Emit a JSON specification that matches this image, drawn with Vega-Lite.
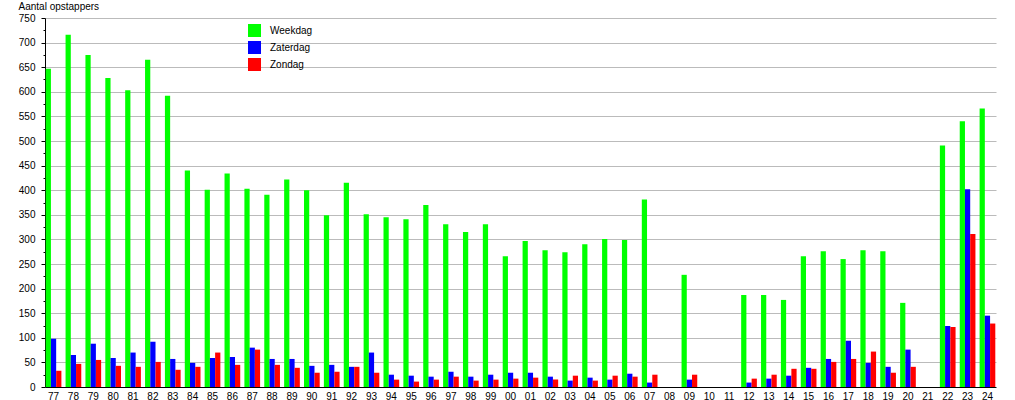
{
  "$schema": "https://vega.github.io/schema/vega-lite/v6.json",
  "width": 951,
  "height": 369,
  "autosize": {"type": "none"},
  "padding": {"left": 45, "top": 18, "right": 19, "bottom": 13},
  "background": "white",
  "config": {
    "view": {"stroke": null},
    "font": "Liberation Sans",
    "axis": {"labelFont": "Liberation Sans", "titleFont": "Liberation Sans", "labelColor": "#000000", "titleColor": "#000000"}
  },
  "data": {"values": [
    {"jaar":"77","dag":"Weekdag","n":647},{"jaar":"77","dag":"Zaterdag","n":98},{"jaar":"77","dag":"Zondag","n":33},
    {"jaar":"78","dag":"Weekdag","n":716},{"jaar":"78","dag":"Zaterdag","n":65},{"jaar":"78","dag":"Zondag","n":47},
    {"jaar":"79","dag":"Weekdag","n":675},{"jaar":"79","dag":"Zaterdag","n":88},{"jaar":"79","dag":"Zondag","n":55},
    {"jaar":"80","dag":"Weekdag","n":628},{"jaar":"80","dag":"Zaterdag","n":59},{"jaar":"80","dag":"Zondag","n":43},
    {"jaar":"81","dag":"Weekdag","n":603},{"jaar":"81","dag":"Zaterdag","n":70},{"jaar":"81","dag":"Zondag","n":41},
    {"jaar":"82","dag":"Weekdag","n":665},{"jaar":"82","dag":"Zaterdag","n":92},{"jaar":"82","dag":"Zondag","n":51},
    {"jaar":"83","dag":"Weekdag","n":592},{"jaar":"83","dag":"Zaterdag","n":57},{"jaar":"83","dag":"Zondag","n":35},
    {"jaar":"84","dag":"Weekdag","n":440},{"jaar":"84","dag":"Zaterdag","n":49},{"jaar":"84","dag":"Zondag","n":41},
    {"jaar":"85","dag":"Weekdag","n":401},{"jaar":"85","dag":"Zaterdag","n":59},{"jaar":"85","dag":"Zondag","n":70},
    {"jaar":"86","dag":"Weekdag","n":434},{"jaar":"86","dag":"Zaterdag","n":61},{"jaar":"86","dag":"Zondag","n":45},
    {"jaar":"87","dag":"Weekdag","n":403},{"jaar":"87","dag":"Zaterdag","n":80},{"jaar":"87","dag":"Zondag","n":76},
    {"jaar":"88","dag":"Weekdag","n":391},{"jaar":"88","dag":"Zaterdag","n":57},{"jaar":"88","dag":"Zondag","n":45},
    {"jaar":"89","dag":"Weekdag","n":422},{"jaar":"89","dag":"Zaterdag","n":57},{"jaar":"89","dag":"Zondag","n":39},
    {"jaar":"90","dag":"Weekdag","n":400},{"jaar":"90","dag":"Zaterdag","n":43},{"jaar":"90","dag":"Zondag","n":29},
    {"jaar":"91","dag":"Weekdag","n":349},{"jaar":"91","dag":"Zaterdag","n":45},{"jaar":"91","dag":"Zondag","n":31},
    {"jaar":"92","dag":"Weekdag","n":415},{"jaar":"92","dag":"Zaterdag","n":41},{"jaar":"92","dag":"Zondag","n":41},
    {"jaar":"93","dag":"Weekdag","n":351},{"jaar":"93","dag":"Zaterdag","n":70},{"jaar":"93","dag":"Zondag","n":29},
    {"jaar":"94","dag":"Weekdag","n":345},{"jaar":"94","dag":"Zaterdag","n":25},{"jaar":"94","dag":"Zondag","n":15},
    {"jaar":"95","dag":"Weekdag","n":341},{"jaar":"95","dag":"Zaterdag","n":23},{"jaar":"95","dag":"Zondag","n":11},
    {"jaar":"96","dag":"Weekdag","n":370},{"jaar":"96","dag":"Zaterdag","n":21},{"jaar":"96","dag":"Zondag","n":15},
    {"jaar":"97","dag":"Weekdag","n":331},{"jaar":"97","dag":"Zaterdag","n":31},{"jaar":"97","dag":"Zondag","n":21},
    {"jaar":"98","dag":"Weekdag","n":315},{"jaar":"98","dag":"Zaterdag","n":21},{"jaar":"98","dag":"Zondag","n":13},
    {"jaar":"99","dag":"Weekdag","n":331},{"jaar":"99","dag":"Zaterdag","n":25},{"jaar":"99","dag":"Zondag","n":15},
    {"jaar":"00","dag":"Weekdag","n":266},{"jaar":"00","dag":"Zaterdag","n":29},{"jaar":"00","dag":"Zondag","n":17},
    {"jaar":"01","dag":"Weekdag","n":297},{"jaar":"01","dag":"Zaterdag","n":29},{"jaar":"01","dag":"Zondag","n":19},
    {"jaar":"02","dag":"Weekdag","n":278},{"jaar":"02","dag":"Zaterdag","n":21},{"jaar":"02","dag":"Zondag","n":15},
    {"jaar":"03","dag":"Weekdag","n":274},{"jaar":"03","dag":"Zaterdag","n":13},{"jaar":"03","dag":"Zondag","n":23},
    {"jaar":"04","dag":"Weekdag","n":290},{"jaar":"04","dag":"Zaterdag","n":19},{"jaar":"04","dag":"Zondag","n":13},
    {"jaar":"05","dag":"Weekdag","n":301},{"jaar":"05","dag":"Zaterdag","n":15},{"jaar":"05","dag":"Zondag","n":23},
    {"jaar":"06","dag":"Weekdag","n":299},{"jaar":"06","dag":"Zaterdag","n":27},{"jaar":"06","dag":"Zondag","n":21},
    {"jaar":"07","dag":"Weekdag","n":381},{"jaar":"07","dag":"Zaterdag","n":9},{"jaar":"07","dag":"Zondag","n":25},
    {"jaar":"08","dag":"Weekdag","n":0},{"jaar":"08","dag":"Zaterdag","n":0},{"jaar":"08","dag":"Zondag","n":0},
    {"jaar":"09","dag":"Weekdag","n":228},{"jaar":"09","dag":"Zaterdag","n":15},{"jaar":"09","dag":"Zondag","n":25},
    {"jaar":"10","dag":"Weekdag","n":0},{"jaar":"10","dag":"Zaterdag","n":0},{"jaar":"10","dag":"Zondag","n":0},
    {"jaar":"11","dag":"Weekdag","n":0},{"jaar":"11","dag":"Zaterdag","n":0},{"jaar":"11","dag":"Zondag","n":0},
    {"jaar":"12","dag":"Weekdag","n":187},{"jaar":"12","dag":"Zaterdag","n":9},{"jaar":"12","dag":"Zondag","n":17},
    {"jaar":"13","dag":"Weekdag","n":187},{"jaar":"13","dag":"Zaterdag","n":17},{"jaar":"13","dag":"Zondag","n":25},
    {"jaar":"14","dag":"Weekdag","n":177},{"jaar":"14","dag":"Zaterdag","n":23},{"jaar":"14","dag":"Zondag","n":37},
    {"jaar":"15","dag":"Weekdag","n":266},{"jaar":"15","dag":"Zaterdag","n":39},{"jaar":"15","dag":"Zondag","n":37},
    {"jaar":"16","dag":"Weekdag","n":276},{"jaar":"16","dag":"Zaterdag","n":57},{"jaar":"16","dag":"Zondag","n":51},
    {"jaar":"17","dag":"Weekdag","n":260},{"jaar":"17","dag":"Zaterdag","n":94},{"jaar":"17","dag":"Zondag","n":57},
    {"jaar":"18","dag":"Weekdag","n":278},{"jaar":"18","dag":"Zaterdag","n":49},{"jaar":"18","dag":"Zondag","n":72},
    {"jaar":"19","dag":"Weekdag","n":276},{"jaar":"19","dag":"Zaterdag","n":41},{"jaar":"19","dag":"Zondag","n":29},
    {"jaar":"20","dag":"Weekdag","n":171},{"jaar":"20","dag":"Zaterdag","n":76},{"jaar":"20","dag":"Zondag","n":41},
    {"jaar":"21","dag":"Weekdag","n":0},{"jaar":"21","dag":"Zaterdag","n":0},{"jaar":"21","dag":"Zondag","n":0},
    {"jaar":"22","dag":"Weekdag","n":491},{"jaar":"22","dag":"Zaterdag","n":124},{"jaar":"22","dag":"Zondag","n":122},
    {"jaar":"23","dag":"Weekdag","n":540},{"jaar":"23","dag":"Zaterdag","n":402},{"jaar":"23","dag":"Zondag","n":311},
    {"jaar":"24","dag":"Weekdag","n":566},{"jaar":"24","dag":"Zaterdag","n":145},{"jaar":"24","dag":"Zondag","n":129}
  ]},
  "mark": {"type": "bar", "strokeWidth": 0},
  "encoding": {
    "x": {
      "field": "jaar", "type": "nominal", "sort": null,
      "scale": {"paddingInner": 0.21, "paddingOuter": 0.035},
      "axis": {
        "title": null, "labelAngle": 0, "ticks": false, "tickSize": 0,
        "labelPadding": 4, "labelFontSize": 10, "labelDx": 3,
        "domainColor": "#000000", "domainWidth": 1, "grid": false
      }
    },
    "xOffset": {
      "field": "dag", "type": "nominal",
      "sort": ["Weekdag", "Zaterdag", "Zondag"],
      "scale": {"paddingInner": 0, "paddingOuter": 0}
    },
    "y": {
      "field": "n", "type": "quantitative",
      "scale": {"domain": [0, 750], "nice": false, "zero": true},
      "axis": {
        "title": "Aantal opstappers",
        "titleAngle": 0, "titleAlign": "left", "titleBaseline": "alphabetic",
        "titleX": -27, "titleY": -9, "titleFontSize": 10, "titleFontWeight": "normal",
        "values": [0,25,50,75,100,125,150,175,200,225,250,275,300,325,350,375,400,425,450,475,500,525,550,575,600,625,650,675,700,725,750],
        "labelExpr": "datum.value % 50 === 0 ? datum.label : ''",
        "labelFontSize": 10, "labelPadding": 6,
        "tickSize": {"condition": {"test": "datum.value % 50 === 0", "value": 4}, "value": 2},
        "tickColor": "#000000",
        "domainColor": "#000000", "domainWidth": 1,
        "grid": true,
        "gridColor": "#bbbbbb",
        "gridOpacity": {"condition": {"test": "datum.value % 50 === 0 && datum.value > 0", "value": 1}, "value": 0}
      }
    },
    "color": {
      "field": "dag", "type": "nominal",
      "scale": {"domain": ["Weekdag", "Zaterdag", "Zondag"], "range": ["#00ff00", "#0000ff", "#ff0000"]},
      "legend": {
        "title": null, "orient": "none", "legendX": 203, "legendY": 6,
        "symbolType": "square", "symbolSize": 169, "symbolStrokeWidth": 0,
        "labelFontSize": 10, "labelFont": "Liberation Sans", "labelColor": "#000000",
        "labelOffset": 9, "rowPadding": 4
      }
    }
  }
}
